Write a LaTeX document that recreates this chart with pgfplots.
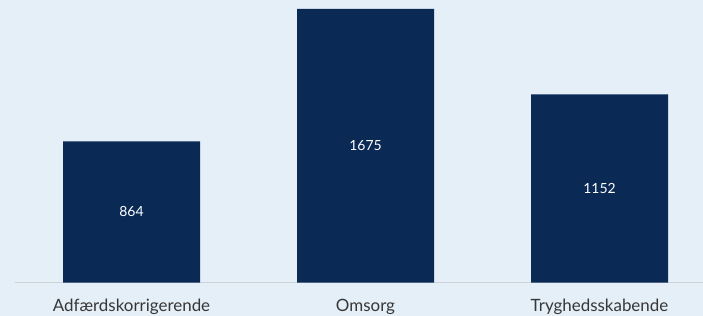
\documentclass[border=0pt]{standalone}
\usepackage{pgfplots}
\pgfplotsset{compat=1.18}
\usepackage{fontspec}
\setmainfont{Lato}
\definecolor{bg}{RGB}{228,239,248}
\definecolor{bar}{RGB}{10,42,85}
\definecolor{lab}{RGB}{55,55,55}
\definecolor{axl}{RGB}{205,210,215}
\begin{document}
\begin{tikzpicture}
\useasboundingbox (0,0) rectangle (703bp,316bp);
\fill[bg] (0,0) rectangle (703bp,316bp);
\begin{axis}[
  at={(15bp,33.5bp)}, anchor=south west,
  scale only axis, width=688bp, height=282.5bp,
  xmin=-0.4979, xmax=2.4423, ymin=0, ymax=1730.1,
  axis x line*=bottom, axis y line=none,
  x axis line style={draw=axl, line width=0.8pt, -},
  xtick={0,1,2},
  xticklabels={Adfærdskorrigerende,Omsorg,Tryghedsskabende},
  xtick style={draw=none},
  x tick label style={font=\fontsize{17}{20}\selectfont, text=lab, yshift=-13bp},
  ytick=\empty,
  clip=false,
]
\addplot[ybar, bar width=137bp, fill=bar, draw=none] coordinates {(0,864) (1,1675) (2,1152)};
\addplot[draw=none, mark=none, nodes near coords, point meta=explicit symbolic,
  every node near coord/.style={anchor=center, text=white, font=\fontsize{14}{16}\selectfont}]
  coordinates {(0,432)[864] (1,837.5)[1675] (2,576)[1152]};
\end{axis}
\end{tikzpicture}
\end{document}
